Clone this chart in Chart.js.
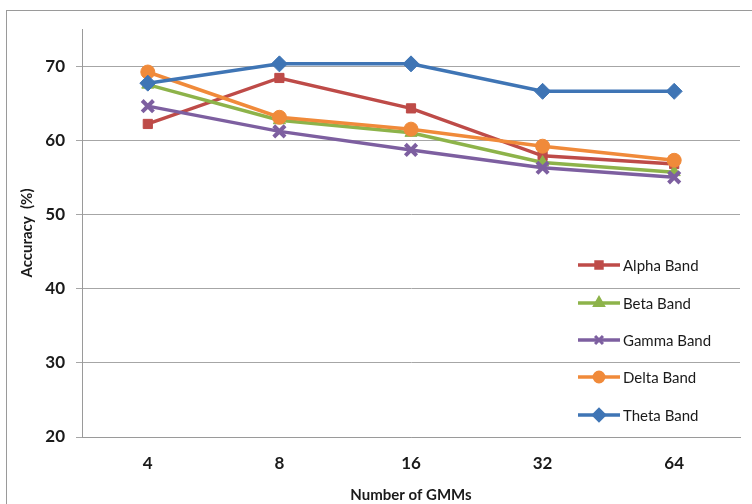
<!DOCTYPE html>
<html>
<head>
<meta charset="utf-8">
<script src="https://cdn.jsdelivr.net/npm/chart.js@4/dist/chart.umd.min.js"></script>
<style>
  html, body { margin: 0; padding: 0; background: #fff; overflow: hidden; }
  .frame {
    position: absolute; left: 6px; top: 10px;
    width: 760px; height: 510px;
    border: 1px solid #9a9a9a;
  }
  .chart-box { position: absolute; left: 0; top: 0; width: 752px; height: 504px; }
</style>
</head>
<body>
<div class="frame"></div>
<div class="chart-box"><canvas id="gmm" width="752" height="504"></canvas></div>
<script>
  // x categories (number of GMMs)
  const gmmCounts = ["4", "8", "16", "32", "64"];

  // accuracy (%) per band
  const alphaBand = [62.2, 68.4, 64.3, 57.9, 56.8];
  const betaBand  = [67.5, 62.7, 61.0, 57.0, 55.7];
  const gammaBand = [64.6, 61.2, 58.7, 56.3, 55.0];
  const deltaBand = [69.2, 63.1, 61.5, 59.2, 57.3];
  const thetaBand = [67.7, 70.3, 70.3, 66.6, 66.6];

  const yTicks = [20, 30, 40, 50, 60, 70];

  const bands = [
    { label: "Alpha Band", data: alphaBand, color: "#be4b48", marker: "rect",     size: 6.5, order: 4 },
    { label: "Beta Band",  data: betaBand,  color: "#8db34a", marker: "triangle", size: 7,   order: 3 },
    { label: "Gamma Band", data: gammaBand, color: "#7d5fa0", marker: "crossRot", size: 8,   order: 2 },
    { label: "Delta Band", data: deltaBand, color: "#f08a3a", marker: "circle",   size: 7,   order: 1 },
    { label: "Theta Band", data: thetaBand, color: "#3f75b5", marker: "rectRot",  size: 8,   order: 0 }
  ];

  // legend drawn inside the plot, lower right like the original
  const insideLegend = {
    id: "insideLegend",
    afterDraw(chart) {
      const ctx = chart.ctx;
      const x0 = 578, x1 = 620;
      const rowY = [265, 303, 340, 377, 415];
      ctx.save();
      chart.data.datasets.forEach((ds, i) => {
        const y = rowY[i];
        ctx.strokeStyle = ds.borderColor;
        ctx.lineWidth = 3.5;
        ctx.beginPath();
        ctx.moveTo(x0, y);
        ctx.lineTo(x1, y);
        ctx.stroke();
        ctx.fillStyle = ds.borderColor;
        ctx.strokeStyle = ds.borderColor;
        ctx.lineWidth = 3;
        Chart.helpers.drawPoint(ctx, {
          pointStyle: ds.pointStyle, radius: ds.pointRadius * 0.7, borderWidth: 3
        }, (x0 + x1) / 2, y);
        ctx.fillStyle = "#1a1a1a";
        ctx.font = "15px Lato, 'Open Sans', sans-serif";
        ctx.textAlign = "left";
        ctx.textBaseline = "middle";
        ctx.fillText(ds.label, x1 + 3, y + 1);
      });
      ctx.restore();
    }
  };

  new Chart(document.getElementById("gmm"), {
    type: "line",
    data: {
      labels: gmmCounts,
      datasets: bands.map(b => ({
        label: b.label,
        data: b.data,
        borderColor: b.color,
        backgroundColor: b.color,
        borderWidth: 3.5,
        pointStyle: b.marker,
        pointRadius: b.size,
        pointBorderWidth: b.marker === "crossRot" ? 4 : 1,
        pointBackgroundColor: b.color,
        pointBorderColor: b.color,
        order: b.order,
        tension: 0,
        fill: false
      }))
    },
    options: {
      responsive: false,
      animation: false,
      layout: { padding: { left: 0, top: 29, right: 8, bottom: 0 } },
      plugins: { legend: { display: false }, tooltip: { enabled: false } },
      scales: {
        x: {
          offset: true,
          grid: { display: false, drawTicks: false },
          border: { display: true, color: "#9a9a9a", width: 1 },
          ticks: {
            color: "#1a1a1a", padding: 16,
            font: { family: "Lato, 'Open Sans', sans-serif", size: 17, weight: "bold" }
          },
          title: {
            display: true, text: "Number of GMMs", color: "#1a1a1a",
            padding: { top: 8, bottom: 0 },
            font: { family: "Lato, 'Open Sans', sans-serif", size: 15, weight: "bold" }
          },
          afterFit: s => { s.height = 67; }
        },
        y: {
          min: 20, max: 75,
          afterBuildTicks: s => { s.ticks = yTicks.map(v => ({ value: v })); },
          grid: { color: "#a6a6a6", lineWidth: 1, tickLength: 6 },
          border: { display: true, color: "#9a9a9a", width: 1 },
          ticks: {
            color: "#1a1a1a", padding: 11,
            font: { family: "Lato, 'Open Sans', sans-serif", size: 17, weight: "bold" }
          },
          title: {
            display: true, text: "Accuracy  (%)", color: "#1a1a1a",
            padding: { top: 18, bottom: 0 },
            font: { family: "Lato, 'Open Sans', sans-serif", size: 15, weight: "bold" }
          },
          afterFit: s => { s.width = 82; }
        }
      }
    },
    plugins: [insideLegend]
  });
</script>
</body>
</html>
